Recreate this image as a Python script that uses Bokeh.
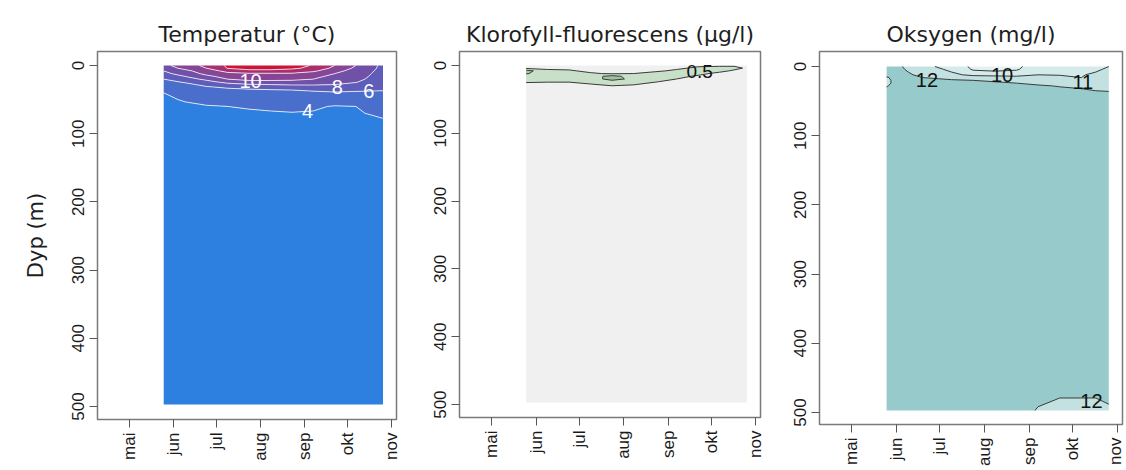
import math
import numpy as np
from bokeh.plotting import figure
from bokeh.models import Range1d, FixedTicker, Label, Title
from bokeh.layouts import row
from bokeh.embed import file_html
from bokeh.resources import INLINE

# ---------------- data ----------------
month_ticks = [121, 152, 182, 213, 244, 274, 305]
month_labels = ["mai", "jun", "jul", "aug", "sep", "okt", "nov"]
depth_ticks = [0, 100, 200, 300, 400, 500]

# Temperature (deg C)
temp_dates = [145, 160, 175, 190, 205, 220, 235, 250, 265, 280, 299]
temp_depths = [0, 4, 8, 12, 16, 20, 24, 28, 32, 36, 40, 50, 60, 70, 80, 100, 200, 497]
temp_values = [
    [9.5, 11.0, 12.5, 14.3, 15.5, 15.5, 15.0, 13.8, 12.0, 10.0, 7.5],
    [9.0, 10.5, 12.0, 14.1, 15.0, 15.0, 14.4, 13.4, 11.5, 9.6, 7.5],
    [8.0, 9.5, 11.0, 12.6, 13.2, 13.2, 13.0, 12.3, 10.8, 9.0, 7.5],
    [7.5, 8.8, 10.5, 11.5, 11.8, 11.8, 11.8, 11.2, 10.0, 8.8, 7.4],
    [6.8, 8.0, 9.5, 10.8, 11.0, 11.0, 11.0, 10.5, 9.5, 8.6, 7.3],
    [6.0, 7.0, 8.5, 10.0, 10.4, 10.4, 10.3, 10.0, 9.0, 8.4, 7.2],
    [5.5, 6.2, 7.3, 8.8, 9.6, 9.6, 9.6, 9.3, 8.5, 8.1, 7.0],
    [5.2, 5.6, 6.4, 7.2, 7.8, 8.0, 8.2, 8.2, 8.0, 7.7, 6.8],
    [5.0, 5.2, 5.8, 6.2, 6.4, 6.6, 6.8, 7.0, 7.3, 7.2, 6.5],
    [4.7, 5.0, 5.4, 5.6, 5.8, 5.9, 6.0, 6.2, 6.5, 6.3, 6.1],
    [4.0, 4.6, 5.1, 5.3, 5.4, 5.5, 5.6, 5.7, 5.8, 5.7, 5.7],
    [3.8, 4.1, 4.5, 4.7, 4.9, 5.0, 5.1, 5.1, 5.0, 5.0, 5.2],
    [3.7, 3.8, 3.9, 4.0, 4.1, 4.2, 4.3, 4.2, 3.9, 4.0, 4.7],
    [3.6, 3.7, 3.75, 3.8, 3.85, 3.9, 3.95, 3.9, 3.8, 3.85, 4.3],
    [3.6, 3.6, 3.7, 3.7, 3.7, 3.7, 3.8, 3.7, 3.7, 3.7, 3.9],
    [3.6, 3.6, 3.6, 3.6, 3.6, 3.6, 3.6, 3.6, 3.6, 3.6, 3.6],
    [3.5, 3.5, 3.5, 3.5, 3.5, 3.5, 3.5, 3.5, 3.5, 3.5, 3.5],
    [3.4, 3.4, 3.4, 3.4, 3.4, 3.4, 3.4, 3.4, 3.4, 3.4, 3.4],
]
temp_levels = [2, 4, 6, 8, 10, 12, 14, 16]
temp_colors = ["#2E80E0", "#4A6ECB", "#5F5DBA", "#7150A8", "#874596", "#A8306E", "#CC1438"]
temp_label_text = ["10", "8", "6", "4"]
temp_label_date = [206, 267, 289, 246]
temp_label_depth = [23, 31, 38, 67]

# Chlorophyll fluorescence (ug/l)
chl_dates = [145, 160, 175, 190, 205, 220, 235, 250, 265, 280, 290, 299]
chl_depths = [0, 4, 8, 12, 16, 20, 24, 28, 32, 40, 60, 100, 497]
chl_values = [
    [0.30, 0.30, 0.30, 0.30, 0.30, 0.30, 0.30, 0.40, 0.45, 0.45, 0.45, 0.40],
    [0.40, 0.40, 0.40, 0.35, 0.30, 0.30, 0.35, 0.45, 0.55, 0.60, 0.60, 0.45],
    [1.20, 0.60, 0.55, 0.40, 0.35, 0.35, 0.45, 0.55, 0.70, 0.60, 0.45, 0.35],
    [1.05, 0.70, 0.65, 0.55, 0.45, 0.50, 0.60, 0.65, 0.60, 0.40, 0.35, 0.30],
    [0.70, 0.70, 0.70, 0.80, 1.15, 0.80, 0.65, 0.60, 0.45, 0.30, 0.30, 0.30],
    [0.60, 0.60, 0.65, 0.75, 1.20, 0.85, 0.60, 0.50, 0.35, 0.30, 0.30, 0.30],
    [0.55, 0.52, 0.52, 0.62, 0.78, 0.68, 0.52, 0.40, 0.30, 0.30, 0.30, 0.30],
    [0.40, 0.40, 0.40, 0.48, 0.58, 0.52, 0.40, 0.35, 0.30, 0.30, 0.30, 0.30],
    [0.35, 0.35, 0.35, 0.35, 0.42, 0.40, 0.35, 0.30, 0.30, 0.30, 0.30, 0.30],
    [0.30, 0.30, 0.30, 0.30, 0.30, 0.30, 0.30, 0.30, 0.30, 0.30, 0.30, 0.30],
    [0.25, 0.25, 0.25, 0.25, 0.25, 0.25, 0.25, 0.25, 0.25, 0.25, 0.25, 0.25],
    [0.20, 0.20, 0.20, 0.20, 0.20, 0.20, 0.20, 0.20, 0.20, 0.20, 0.20, 0.20],
    [0.15, 0.15, 0.15, 0.15, 0.15, 0.15, 0.15, 0.15, 0.15, 0.15, 0.15, 0.15],
]
chl_levels = [0, 0.5, 1.0, 2.0]
chl_colors = ["#F0F0F0", "#C8E0C8", "#9EC39E"]
chl_label_text = ["0.5"]
chl_label_date = [266]
chl_label_depth = [9]

# Oxygen (mg/l)
oxy_dates = [145, 150, 160, 170, 190, 205, 220, 235, 250, 265, 280, 290, 299]
oxy_depths = [0, 4, 8, 12, 16, 20, 24, 28, 32, 36, 40, 50, 100, 300, 450, 470, 497]
oxy_values = [
    [12.4, 12.3, 11.8, 11.3, 10.6, 9.8, 9.7, 9.8, 10.5, 10.8, 10.8, 10.9, 11.0],
    [12.4, 12.3, 11.9, 11.5, 10.8, 9.9, 9.8, 9.9, 10.6, 10.9, 10.9, 10.95, 11.05],
    [12.4, 12.3, 12.0, 11.7, 11.0, 10.2, 10.1, 10.2, 10.8, 10.95, 10.95, 11.0, 11.1],
    [12.3, 12.3, 12.1, 11.8, 11.2, 10.8, 10.8, 10.8, 11.0, 10.98, 10.98, 11.05, 11.15],
    [11.9, 12.2, 12.1, 12.0, 11.7, 11.5, 11.3, 11.2, 11.2, 11.1, 11.0, 11.1, 11.2],
    [11.7, 12.2, 12.2, 12.2, 12.1, 12.0, 11.9, 11.7, 11.5, 11.3, 11.2, 11.2, 11.3],
    [11.7, 12.2, 12.3, 12.3, 12.3, 12.2, 12.1, 12.0, 11.8, 11.6, 11.5, 11.4, 11.4],
    [11.9, 12.3, 12.3, 12.3, 12.3, 12.3, 12.3, 12.2, 12.1, 11.95, 11.8, 11.6, 11.5],
    [12.2, 12.3, 12.3, 12.3, 12.3, 12.3, 12.3, 12.3, 12.2, 12.1, 12.0, 11.7, 11.6],
    [12.3, 12.3, 12.3, 12.3, 12.3, 12.3, 12.3, 12.3, 12.3, 12.3, 12.2, 12.1, 12.0],
    [12.3, 12.3, 12.3, 12.3, 12.3, 12.3, 12.3, 12.3, 12.3, 12.3, 12.3, 12.3, 12.2],
    [12.3, 12.3, 12.3, 12.3, 12.3, 12.3, 12.3, 12.3, 12.3, 12.3, 12.3, 12.3, 12.3],
    [12.3, 12.3, 12.3, 12.3, 12.3, 12.3, 12.3, 12.3, 12.3, 12.3, 12.3, 12.3, 12.3],
    [12.3, 12.3, 12.3, 12.3, 12.3, 12.3, 12.3, 12.3, 12.3, 12.3, 12.3, 12.3, 12.3],
    [12.3, 12.3, 12.3, 12.3, 12.3, 12.3, 12.3, 12.3, 12.3, 12.3, 12.3, 12.3, 12.3],
    [12.3, 12.3, 12.3, 12.3, 12.3, 12.3, 12.3, 12.3, 12.2, 12.1, 12.1, 12.1, 12.2],
    [12.3, 12.3, 12.3, 12.3, 12.3, 12.3, 12.3, 12.3, 11.95, 11.8, 11.8, 11.8, 11.9],
]
oxy_levels = [9, 10, 11, 12, 13]
oxy_colors = ["#E3F1F1", "#D5EAEA", "#C3E1E1", "#97CBCB"]
oxy_label_text = ["12", "10", "11", "12"]
oxy_label_date = [173, 225, 281, 287]
oxy_label_depth = [19, 12, 23, 483]


# ---------------- figures ----------------
def make_fig(title, left, fw, right, fh, bottom, yr):
    p = figure(frame_width=fw, frame_height=fh,
               min_border_left=left, min_border_right=right,
               min_border_top=51, min_border_bottom=bottom,
               x_range=Range1d(98.5, 308.5), y_range=Range1d(*yr),
               output_backend="svg", toolbar_location=None, title=title)
    p.title.align = "center"
    p.title.text_font = "DejaVu Sans"
    p.title.text_font_size = "22px"
    p.title.text_font_style = "normal"
    p.title.text_color = "#1e1e1e"
    p.title.standoff = 10
    p.grid.visible = False
    p.outline_line_color = "#7a7a7a"
    p.outline_line_width = 1.5
    p.background_fill_color = "white"
    p.border_fill_color = "white"
    for ax in (p.xaxis[0], p.yaxis[0]):
        ax.axis_line_color = None
        ax.major_tick_line_color = "#555555"
        ax.major_tick_out = 8
        ax.major_tick_in = 0
        ax.minor_tick_line_color = None
        ax.major_label_text_font = "Liberation Sans"
        ax.major_label_text_font_size = "17px"
        ax.major_label_text_color = "#1a1a1a"
        ax.major_label_standoff = 5
    p.yaxis.major_label_orientation = "vertical"
    p.xaxis.major_label_orientation = math.pi / 2
    p.xaxis.ticker = FixedTicker(ticks=month_ticks)
    p.xaxis.major_label_overrides = {t: l for t, l in zip(month_ticks, month_labels)}
    p.yaxis.ticker = FixedTicker(ticks=depth_ticks)
    return p


def add_labels(p, texts, xs, ys, color, size):
    for t, x, y in zip(texts, xs, ys):
        p.add_layout(Label(x=x, y=y, text=t, text_color=color, text_font="Liberation Sans",
                           text_font_size=size, text_align="center", text_baseline="middle"))


p1 = make_fig("Temperatur (\u00b0C)", 96, 299, 10, 368, 45, (519, -20.5))
p1.contour(x=temp_dates, y=temp_depths, z=np.array(temp_values), levels=temp_levels,
           fill_color=temp_colors, line_color="white", line_alpha=0.75, line_width=1)
add_labels(p1, temp_label_text, temp_label_date, temp_label_depth, "white", "20px")
p1.add_layout(Title(text="Dyp (m)", align="center", text_font="DejaVu Sans",
                    text_font_size="21px", text_font_style="normal",
                    text_color="#1e1e1e", standoff=43, offset=-12), "left")

p2 = make_fig("Klorofyll-fluorescens (\u00b5g/l)", 53, 301, 10, 366, 47, (519, -20.5))
p2.contour(x=chl_dates, y=chl_depths, z=np.array(chl_values), levels=chl_levels,
           fill_color=chl_colors, line_color="#3a3a3a", line_width=1)
add_labels(p2, chl_label_text, chl_label_date, chl_label_depth, "#111111", "19px")

p3 = make_fig("Oksygen (mg/l)", 49, 303, 2, 373, 40, (517.3, -21.7))
p3.contour(x=oxy_dates, y=oxy_depths, z=np.array(oxy_values), levels=oxy_levels,
           fill_color=oxy_colors, line_color="#3a3a3a", line_width=1)
add_labels(p3, oxy_label_text, oxy_label_date, oxy_label_depth, "#111111", "20px")

layout = row(p1, p2, p3, spacing=0)
open("out.html", "w").write(file_html(layout, INLINE))
